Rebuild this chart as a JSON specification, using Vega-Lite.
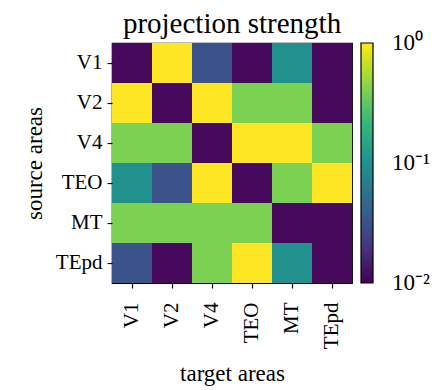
{
  "$schema": "https://vega.github.io/schema/vega-lite/v6.json",
  "width": 240,
  "height": 240,
  "padding": {"left": 23, "top": 10, "right": 5, "bottom": 5},
  "title": {"text": "projection strength", "font": "Liberation Serif", "fontSize": 29, "fontWeight": "normal", "color": "black", "anchor": "middle", "offset": 4},
  "config": {
    "view": {"stroke": "black", "strokeWidth": 1.2},
    "font": "Liberation Serif",
    "axis": {"labelFont": "Liberation Serif", "titleFont": "Liberation Serif", "labelFontSize": 21, "titleFontSize": 23, "titleFontWeight": "normal", "labelColor": "black", "titleColor": "black", "domainColor": "black", "tickColor": "black", "tickSize": 5, "tickWidth": 1.2, "domain": false},
    "legend": {"labelFont": "Liberation Serif", "labelFontSize": 23, "labelColor": "black"}
  },
  "data": {"values": [
    {"source": "V1", "target": "V1", "v": 0.011},
    {"source": "V1", "target": "V2", "v": 1},
    {"source": "V1", "target": "V4", "v": 0.032},
    {"source": "V1", "target": "TEO", "v": 0.011},
    {"source": "V1", "target": "MT", "v": 0.1},
    {"source": "V1", "target": "TEpd", "v": 0.011},
    {"source": "V2", "target": "V1", "v": 1},
    {"source": "V2", "target": "V2", "v": 0.011},
    {"source": "V2", "target": "V4", "v": 1},
    {"source": "V2", "target": "TEO", "v": 0.4},
    {"source": "V2", "target": "MT", "v": 0.4},
    {"source": "V2", "target": "TEpd", "v": 0.011},
    {"source": "V4", "target": "V1", "v": 0.4},
    {"source": "V4", "target": "V2", "v": 0.4},
    {"source": "V4", "target": "V4", "v": 0.011},
    {"source": "V4", "target": "TEO", "v": 1},
    {"source": "V4", "target": "MT", "v": 1},
    {"source": "V4", "target": "TEpd", "v": 0.4},
    {"source": "TEO", "target": "V1", "v": 0.1},
    {"source": "TEO", "target": "V2", "v": 0.032},
    {"source": "TEO", "target": "V4", "v": 1},
    {"source": "TEO", "target": "TEO", "v": 0.011},
    {"source": "TEO", "target": "MT", "v": 0.4},
    {"source": "TEO", "target": "TEpd", "v": 1},
    {"source": "MT", "target": "V1", "v": 0.4},
    {"source": "MT", "target": "V2", "v": 0.4},
    {"source": "MT", "target": "V4", "v": 0.4},
    {"source": "MT", "target": "TEO", "v": 0.4},
    {"source": "MT", "target": "MT", "v": 0.011},
    {"source": "MT", "target": "TEpd", "v": 0.011},
    {"source": "TEpd", "target": "V1", "v": 0.032},
    {"source": "TEpd", "target": "V2", "v": 0.011},
    {"source": "TEpd", "target": "V4", "v": 0.4},
    {"source": "TEpd", "target": "TEO", "v": 1},
    {"source": "TEpd", "target": "MT", "v": 0.1},
    {"source": "TEpd", "target": "TEpd", "v": 0.011}
  ]},
  "mark": {"type": "rect"},
  "encoding": {
    "x": {"field": "target", "type": "nominal", "sort": ["V1", "V2", "V4", "TEO", "MT", "TEpd"], "title": "target areas",
      "axis": {"labelAngle": -90, "labelAlign": "right", "labelBaseline": "middle", "labelPadding": 14, "titlePadding": 14}},
    "y": {"field": "source", "type": "nominal", "sort": ["V1", "V2", "V4", "TEO", "MT", "TEpd"], "title": "source areas",
      "axis": {"labelPadding": 5, "titlePadding": 9}},
    "color": {"field": "v", "type": "quantitative",
      "scale": {"type": "log", "domain": [0.01, 1], "scheme": "viridis"},
      "legend": {"title": null, "values": [0.01, 0.1, 1], "gradientLength": 240, "gradientThickness": 12, "gradientStrokeColor": "black", "gradientStrokeWidth": 1.2, "offset": 9, "labelOffset": 19,
        "labelExpr": "datum.value >= 0.99 ? '10⁰' : datum.value >= 0.099 ? '10⁻¹' : '10⁻²'",
        "encode": {"labels": {"update": {"baseline": {"value": "middle"}}}}}
    }
  }
}
